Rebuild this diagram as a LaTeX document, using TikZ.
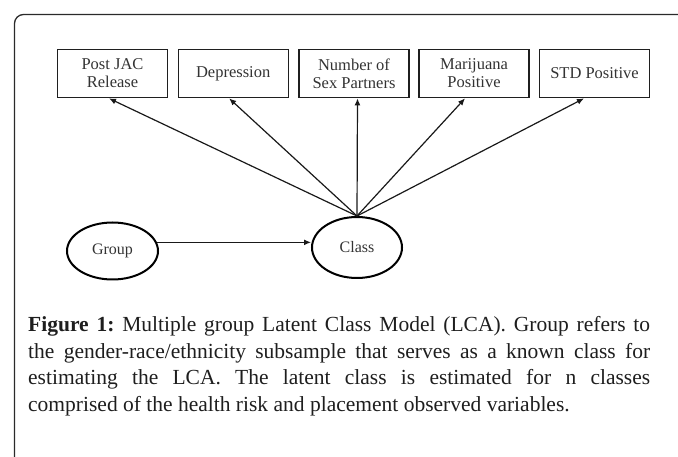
\documentclass[tikz,border=0pt]{standalone}
\usepackage{fontspec}
\setmainfont{Liberation Serif}
\usetikzlibrary{arrows.meta,shapes.geometric}
\definecolor{framec}{HTML}{2A2A2A}
\definecolor{labc}{HTML}{333333}
\definecolor{capc}{HTML}{1E1E1E}
\begin{document}
\begin{tikzpicture}[x=1pt,y=-1pt,
  obsbox/.style={draw=black!88, line width=1.3pt, minimum width=110pt, minimum height=48.5pt,
    inner sep=0pt, align=center, text=labc, font=\fontsize{16.5}{18}\selectfont},
  latent/.style={draw=black, line width=2pt, ellipse, inner sep=0pt, text=labc,
    font=\fontsize{16}{18}\selectfont},
  conn/.style={line width=1.2pt, draw=black!90, -{Latex[length=7pt,width=6pt]}}]
\useasboundingbox (0,0) rectangle (678,457);
\begin{scope}
\clip (0,0) rectangle (678,457);
\draw[line width=1.3pt, draw=framec, rounded corners=9pt] (14.5,480) -- (14.5,14.5) -- (700,14.5);
\end{scope}

\node[obsbox] (b1) at (112.5,73.5) {Post JAC\\Release};
\node[obsbox] (b2) at (233.2,73.5) {Depression};
\node[obsbox] (b3) at (354,73.5) {Number of\\Sex Partners};
\node[obsbox] (b4) at (474,73.5) {Marijuana\\Positive};
\node[obsbox] (b5) at (594.5,73.5) {STD Positive};

\node[latent, minimum width=91pt, minimum height=57pt] (g) at (112.5,251) {Group};
\node[latent, minimum width=90pt, minimum height=61pt] (c) at (357,247.5) {Class};

\draw[conn] (c.north) -- ([xshift=-3.5pt]b1.south);
\draw[conn] (c.north) -- ([xshift=-4pt]b2.south);
\draw[conn] (c.north) -- ([xshift=3.5pt]b3.south);
\draw[conn] (c.north) -- ([xshift=-9pt]b4.south);
\draw[conn] (c.north) -- ([xshift=-10.5pt]b5.south);
\draw[conn] (g.11) -- (g.11 -| c.west);

\node[anchor=base west, text width=622pt, inner sep=0pt, text=capc, align=justify,
  font=\fontsize{21.5}{26.5}\selectfont\frenchspacing] (cap) at (28,332)
  {\textbf{Figure 1:} Multiple group Latent Class Model (LCA). Group refers to\linebreak
   the gender-race/ethnicity subsample that serves as a known class for\linebreak
   estimating the LCA. The latent class is estimated for n classes\linebreak
   comprised of the health risk and placement observed variables.};
\end{tikzpicture}
\end{document}
